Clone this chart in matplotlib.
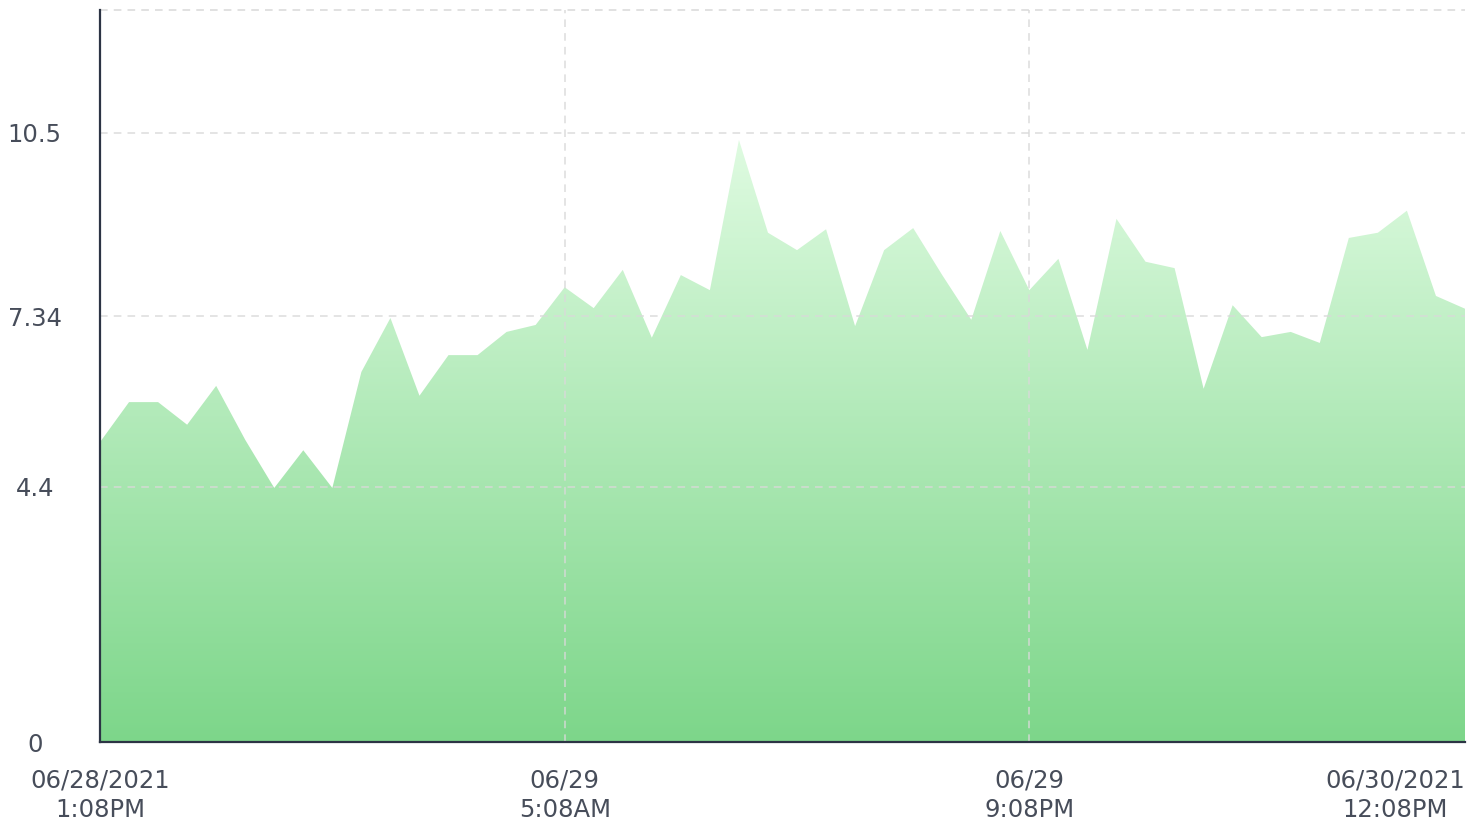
import numpy as np
import pandas as pd
import matplotlib
matplotlib.use('Agg')
import matplotlib.pyplot as plt
import matplotlib.dates as mdates
from matplotlib.colors import LinearSegmentedColormap


### Dados (leitura hora a hora, a partir de 06/28/2021 1:08PM)

START = '2021-06-28 13:08'
values = [5.17, 5.86, 5.86, 5.47, 6.14, 5.21, 4.38, 5.03, 4.38, 6.38,
          7.31, 5.97, 6.67, 6.67, 7.07, 7.19, 7.84, 7.48, 8.14, 6.97,
          8.05, 7.79, 10.38, 8.78, 8.48, 8.84, 7.17, 8.48, 8.86, 8.05,
          7.28, 8.81, 7.79, 8.33, 6.76, 9.02, 8.28, 8.17, 6.09, 7.53,
          6.98, 7.07, 6.88, 8.69, 8.78, 9.16, 7.69, 7.47]

y_ticks = [0, 4.4, 7.34, 10.5]
y_tick_labels = ['0', '4.4', '7.34', '10.5']
Y_MAX = 12.62

x_tick_times = ['2021-06-28 13:08', '2021-06-29 05:08', '2021-06-29 21:08', '2021-06-30 12:08']
x_tick_labels = ['06/28/2021\n1:08PM', '06/29\n5:08AM', '06/29\n9:08PM', '06/30/2021\n12:08PM']


### Estilo

TEXT_COLOR = '#474d5a'
AXIS_COLOR = '#2c3444'
GRID_COLOR = '#d9d9d9'

times = pd.date_range(START, periods=len(values), freq='h')
x = mdates.date2num(times)
y = np.array(values)

fig = plt.figure(figsize=(14.8, 8.26), dpi=100)
ax = fig.add_axes([100 / 1480, 1 - 742 / 826, 1365 / 1480, 732 / 826])

ax.set_xlim(x[0], x[-1])
ax.set_ylim(0, Y_MAX)

# Área com gradiente vertical (de baixo até o pico da série)
cmap = LinearSegmentedColormap.from_list('verde', ['#7dd68a', '#dffbe1'])
fill = ax.fill_between(x, 0, y, color='none', lw=0)
grad = np.linspace(0, 1, 256).reshape(-1, 1)
img = ax.imshow(grad, cmap=cmap, aspect='auto', origin='lower',
                extent=[x[0], x[-1], 0, y.max()], zorder=1)
img.set_clip_path(fill.get_paths()[0], transform=ax.transData)

# Grade tracejada
ax.set_yticks(y_ticks)
ax.set_yticklabels(y_tick_labels)
ax.grid(axis='y', color=GRID_COLOR, linestyle=(0, (5, 4)), linewidth=1.1, alpha=0.9, zorder=3)
ax.axhline(Y_MAX, color=GRID_COLOR, linestyle=(0, (5, 4)), linewidth=1.1, zorder=3, clip_on=False)

tick_x = mdates.date2num(pd.to_datetime(x_tick_times))
ax.set_xticks(tick_x)
ax.set_xticklabels(x_tick_labels)
for tx in tick_x[1:-1]:
    ax.axvline(tx, color=GRID_COLOR, linestyle=(0, (5, 4)), linewidth=1.1, alpha=0.9, zorder=3)

ax.set_axisbelow(False)
for side in ['top', 'right']:
    ax.spines[side].set_visible(False)
for side in ['left', 'bottom']:
    ax.spines[side].set_color(AXIS_COLOR)
    ax.spines[side].set_linewidth(1.6)
    ax.spines[side].set_zorder(4)

ax.tick_params(axis='both', length=0, colors=TEXT_COLOR, labelsize=17.5)
ax.tick_params(axis='y', pad=47)
ax.tick_params(axis='x', pad=19)
for lbl in ax.get_yticklabels():
    lbl.set_horizontalalignment('center')
for lbl in ax.get_xticklabels():
    lbl.set_multialignment('center')
    lbl.set_linespacing(1.3)
ax.get_xticklabels()[-1].set_horizontalalignment('right')

fig.savefig('out.png', dpi=100, facecolor='white')
